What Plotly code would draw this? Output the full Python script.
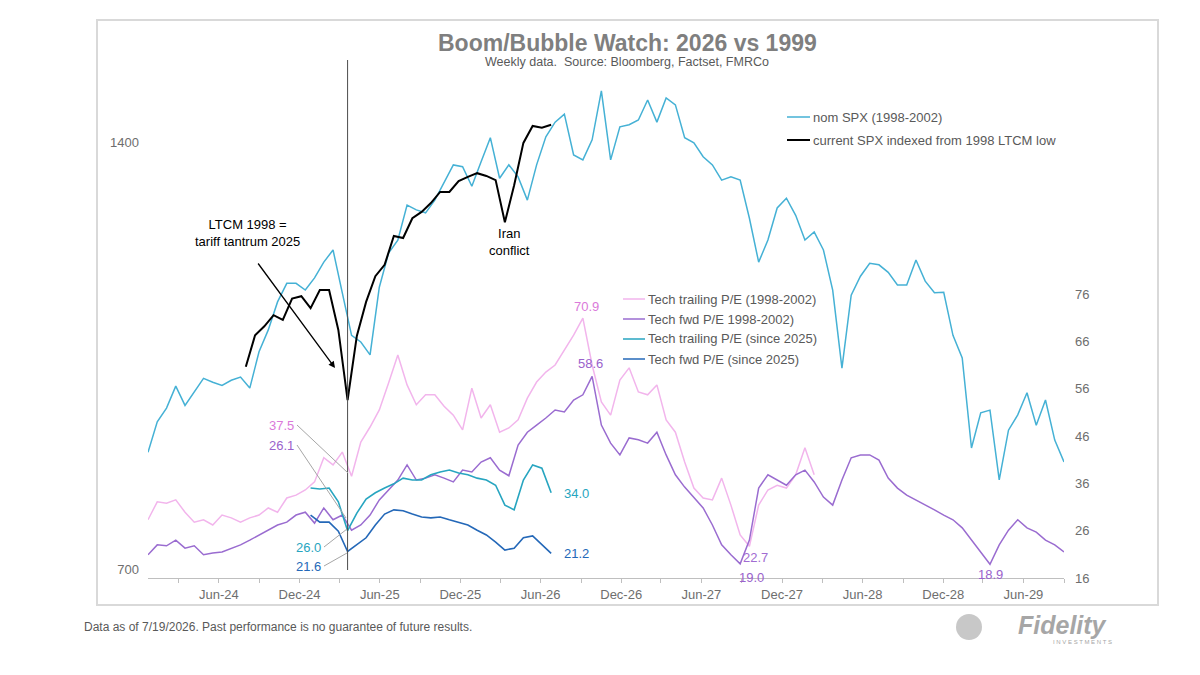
import math
import pandas as pd
import plotly.graph_objects as go

# ---------------- data (weekly series sampled every 3 weeks) ----------------
spx_1998_start = "2023-12-23"
spx_1998 = [846, 889, 909, 942, 913, 933, 954, 948, 943, 951,
            956, 939, 996, 1032, 1080, 1113, 1113, 1101, 1123, 1152,
            1175, 1096, 1023, 1012, 991, 1106, 1169, 1194, 1264, 1254,
            1248, 1274, 1312, 1349, 1345, 1303, 1356, 1410, 1320, 1349,
            1323, 1274, 1349, 1412, 1446, 1465, 1371, 1360, 1405, 1521,
            1360, 1435, 1440, 1451, 1499, 1446, 1504, 1487, 1410, 1398,
            1367, 1349, 1316, 1323, 1316, 1237, 1152, 1194, 1258, 1278,
            1243, 1194, 1210, 1175, 1101, 970, 1092, 1126, 1150, 1147,
            1133, 1110, 1110, 1156, 1117, 1096, 1097, 1023, 986, 852,
            902, 906, 809, 877, 899, 932, 884, 921, 863, 833]

current_spx_start = "2024-08-01"
current_spx = [972, 1023, 1038, 1057, 1049, 1086, 1090, 1069, 1101, 1101,
               1032, 921, 1022, 1080, 1126, 1147, 1202, 1198, 1237, 1250,
               1268, 1291, 1291, 1314, 1323, 1331, 1325, 1316, 1229, 1305,
               1398, 1437, 1433, 1440]

pe_trailing_1998 = [28.3, 32.1, 31.8, 32.5, 29.9, 27.8, 28.3, 27.2, 29.3, 28.7,
                    27.8, 28.7, 29.3, 30.8, 29.9, 32.9, 33.5, 34.6, 36.3, 41.4,
                    39.9, 42.6, 37.5, 44.7, 47.9, 51.5, 57.2, 63.1, 56.8, 52.6,
                    54.7, 54.7, 52.3, 50.4, 47.3, 56.1, 49.8, 52.6, 46.8, 47.7,
                    49.4, 54.0, 57.4, 59.5, 61.0, 64.2, 67.3, 70.9, 61.0, 53.2,
                    50.4, 57.8, 60.4, 55.3, 54.7, 56.8, 49.4, 46.8, 40.5, 35.0,
                    32.9, 32.5, 37.1, 31.4, 25.1, 22.7, 31.4, 34.6, 35.6, 35.0,
                    37.8, 43.5, 37.8]

pe_fwd_1998 = [20.9, 23.0, 22.8, 24.0, 22.3, 22.8, 20.9, 21.3, 21.5, 22.3,
               23.0, 24.0, 25.1, 26.1, 27.2, 27.8, 29.3, 29.9, 27.6, 30.8,
               28.3, 29.3, 26.1, 27.2, 29.3, 32.5, 34.6, 36.7, 39.9, 36.7,
               37.1, 37.8, 37.1, 36.3, 38.8, 38.4, 40.5, 41.4, 38.8, 37.6,
               44.1, 46.8, 48.3, 49.8, 51.5, 51.1, 53.6, 54.7, 58.6, 48.3,
               44.5, 42.0, 45.6, 45.2, 44.5, 46.8, 42.0, 37.8, 35.2, 33.1,
               30.8, 27.2, 23.0, 20.9, 19.0, 24.0, 35.0, 37.8, 36.7, 35.6,
               37.8, 38.8, 36.3, 33.1, 31.4, 36.7, 41.4, 42.0, 42.0, 40.9,
               37.1, 35.0, 33.5, 32.5, 31.4, 30.4, 29.3, 28.3, 26.6, 24.0,
               21.5, 18.9, 23.0, 26.1, 28.3, 26.6, 25.7, 24.0, 23.0, 21.5]

pe_2025_start = "2024-12-26"
pe_trailing_2025 = [35.0, 34.8, 35.0, 32.1, 26.0, 29.7, 32.7, 34.0, 35.0, 35.9,
                    37.1, 36.7, 36.7, 37.8, 38.4, 38.8, 38.2, 37.8, 37.1, 36.7,
                    35.6, 31.4, 30.4, 36.7, 39.9, 39.2, 34.0]
pe_fwd_2025 = [29.3, 27.8, 27.8, 25.9, 21.6, 23.0, 24.5, 27.2, 29.5, 30.4,
               30.2, 29.5, 28.9, 28.7, 28.9, 28.3, 27.8, 27.2, 26.1, 25.1,
               23.6, 21.9, 22.3, 24.5, 24.9, 23.0, 21.2]

ltcm_date = "2025-03-20"

x_tick_vals = ["2024-06-01", "2024-12-01", "2025-06-01", "2025-12-01", "2026-06-01",
               "2026-12-01", "2027-06-01", "2027-12-01", "2028-06-01", "2028-12-01",
               "2029-06-01"]
x_tick_text = ["Jun-24", "Dec-24", "Jun-25", "Dec-25", "Jun-26", "Dec-26",
               "Jun-27", "Dec-27", "Jun-28", "Dec-28", "Jun-29"]
left_ticks = [700, 1400]
right_ticks = [16, 26, 36, 46, 56, 66, 76]

legend_top = ["nom SPX (1998-2002)", "current SPX indexed from 1998 LTCM low"]
legend_bottom = ["Tech trailing P/E (1998-2002)", "Tech fwd P/E 1998-2002)",
                 "Tech trailing P/E (since 2025)", "Tech fwd P/E (since 2025)"]

# ---------------- styling ----------------
FONT = "Liberation Sans, Arial, sans-serif"
GRAY = "#595959"
TICK = "#6E6E6E"
CYAN = "#45B1D5"
BLACK = "#000000"
PINK = "#F2B5EC"
PURPLE = "#9A6CD0"
TEAL = "#27A5C0"
BLUE = "#2468B8"

W, H = 1200, 675
L, R, T, B = 148, 136, 60, 97
PW, PH = W - L - R, H - T - B


def px(x):
    return (x - L) / PW


def py(y):
    return (H - B - y) / PH


def dates(start, n):
    return pd.date_range(start, periods=n, freq="21D")


fig = go.Figure()


def add(start, vals, color, width, axis):
    fig.add_trace(go.Scatter(x=dates(start, len(vals)), y=vals, mode="lines",
                             line=dict(color=color, width=width), yaxis=axis,
                             showlegend=False, hoverinfo="skip"))


add(spx_1998_start, pe_trailing_1998, PINK, 1.5, "y2")
add(spx_1998_start, pe_fwd_1998, PURPLE, 1.5, "y2")
add(pe_2025_start, pe_trailing_2025, TEAL, 1.6, "y2")
add(pe_2025_start, pe_fwd_2025, BLUE, 1.6, "y2")
add(spx_1998_start, spx_1998, CYAN, 1.5, "y")
add(current_spx_start, current_spx, BLACK, 2, "y")

shapes = []
annotations = []

# frame
shapes.append(dict(type="rect", xref="paper", yref="paper", x0=px(97), x1=px(1158),
                   y0=py(605), y1=py(20), line=dict(color="#D9D9D9", width=2)))
# LTCM vertical line
shapes.append(dict(type="line", xref="x", yref="paper", x0=ltcm_date, x1=ltcm_date,
                   y0=py(570), y1=py(60), line=dict(color="#4D4D4D", width=1)))


def text(x, y, s, size=13, color=GRAY, anchor="left", family=FONT):
    annotations.append(dict(x=px(x), y=py(y), xref="paper", yref="paper", text=s,
                            showarrow=False, xanchor=anchor, yanchor="middle",
                            font=dict(size=size, color=color, family=family)))


# title
text(627, 43, "<b>Boom/Bubble Watch: 2026 vs 1999</b>", 23, "#7F7F7F", "center")
text(627, 62, "Weekly data.  Source: Bloomberg, Factset, FMRCo", 12.5, GRAY, "center")

# legends (drawn)
for (label, color, wd), yy in zip([(legend_top[0], CYAN, 1.5), (legend_top[1], BLACK, 2)], [117, 140]):
    shapes.append(dict(type="line", xref="paper", yref="paper", x0=px(787), x1=px(810),
                       y0=py(yy), y1=py(yy), line=dict(color=color, width=wd)))
    text(811, yy, label, 13, GRAY)
for (label, color), yy in zip(zip(legend_bottom, [PINK, PURPLE, TEAL, BLUE]), [299, 319, 339, 359]):
    shapes.append(dict(type="line", xref="paper", yref="paper", x0=px(623), x1=px(645),
                       y0=py(yy), y1=py(yy), line=dict(color=color, width=1.5)))
    text(646, yy, label, 13, GRAY)

# value labels
text(586, 306, "70.9", 13, "#DA7ADA", "center")
text(590, 364, "58.6", 13, "#9A62CC", "center")
text(576, 493, "34.0", 13, TEAL, "center")
text(576, 553, "21.2", 13, BLUE, "center")
text(755, 557, "22.7", 13, "#A16CD2", "center")
text(751, 577, "19.0", 13, "#9A62CC", "center")
text(990, 574, "18.9", 13, "#9A62CC", "center")
text(281, 425, "37.5", 13, "#DA7ADA", "center")
text(281, 445, "26.1", 13, "#9A62CC", "center")
text(308, 547, "26.0", 13, TEAL, "center")
text(308, 566, "21.6", 13, BLUE, "center")

# leader lines
for (x0, y0, x1, y1) in [(297, 425, 348, 473), (297, 445, 346, 518),
                         (324, 547, 347, 529), (324, 566, 347, 553)]:
    shapes.append(dict(type="line", xref="paper", yref="paper", x0=px(x0), x1=px(x1),
                       y0=py(y0), y1=py(y1), line=dict(color="#A6A6A6", width=1)))

# story annotations
text(247, 233, "LTCM 1998 =<br>tariff tantrum 2025", 13, "#000000", "center")
annotations.append(dict(x=px(335), y=py(368), xref="paper", yref="paper", text="",
                        showarrow=True, ax=-78, ay=-106, arrowhead=2, arrowsize=1,
                        arrowwidth=1.3, arrowcolor="#000000"))
text(509, 242, "Iran<br>conflict", 13, "#000000", "center")

# footer
text(82, 627, "Data as of 7/19/2026. Past performance is no guarantee of future results.",
     12, GRAY, "left", "Liberation Sans Narrow, Arial Narrow, Liberation Sans, Arial")
shapes.append(dict(type="circle", xref="paper", yref="paper", x0=px(956), x1=px(982),
                   y0=py(640), y1=py(614), fillcolor="#C8C8C8", line=dict(width=0)))
text(1062, 625, "<b><i>Fidelity</i></b>", 25, "#A6A6A6", "center")
text(1082, 642, "I N V E S T M E N T S", 6, "#A6A6A6", "center")

fig.update_layout(
    width=W, height=H,
    margin=dict(l=L, r=R, t=T, b=B),
    paper_bgcolor="white", plot_bgcolor="white",
    font=dict(family=FONT, color=GRAY),
    showlegend=False,
    xaxis=dict(type="date", range=["2023-12-23", "2029-09-01"], tickmode="array",
               tickvals=x_tick_vals, ticktext=x_tick_text, showgrid=False, zeroline=False,
               showline=True, linecolor="#BFBFBF", linewidth=1, ticks="outside",
               ticklen=4, tickcolor="#BFBFBF", tickfont=dict(size=13, color=TICK),
               minor=dict(ticks="outside", ticklen=4, tickcolor="#BFBFBF",
                          dtick="M3", tick0="2024-03-01", showgrid=False)),
    yaxis=dict(type="log", range=[math.log10(689.9), math.log10(1599.4)],
               tickmode="array", tickvals=left_ticks, ticktext=[str(v) for v in left_ticks],
               showgrid=False, zeroline=False, showline=False, ticks="",
               tickfont=dict(size=13, color=TICK), ticklabelstandoff=8),
    yaxis2=dict(overlaying="y", side="right", range=[16, 125.44], tickmode="array",
                tickvals=right_ticks, showgrid=False, zeroline=False, showline=False,
                ticks="", tickfont=dict(size=13, color=TICK), ticklabelstandoff=10),
    shapes=shapes,
    annotations=annotations,
)

fig.write_html("out.html")
